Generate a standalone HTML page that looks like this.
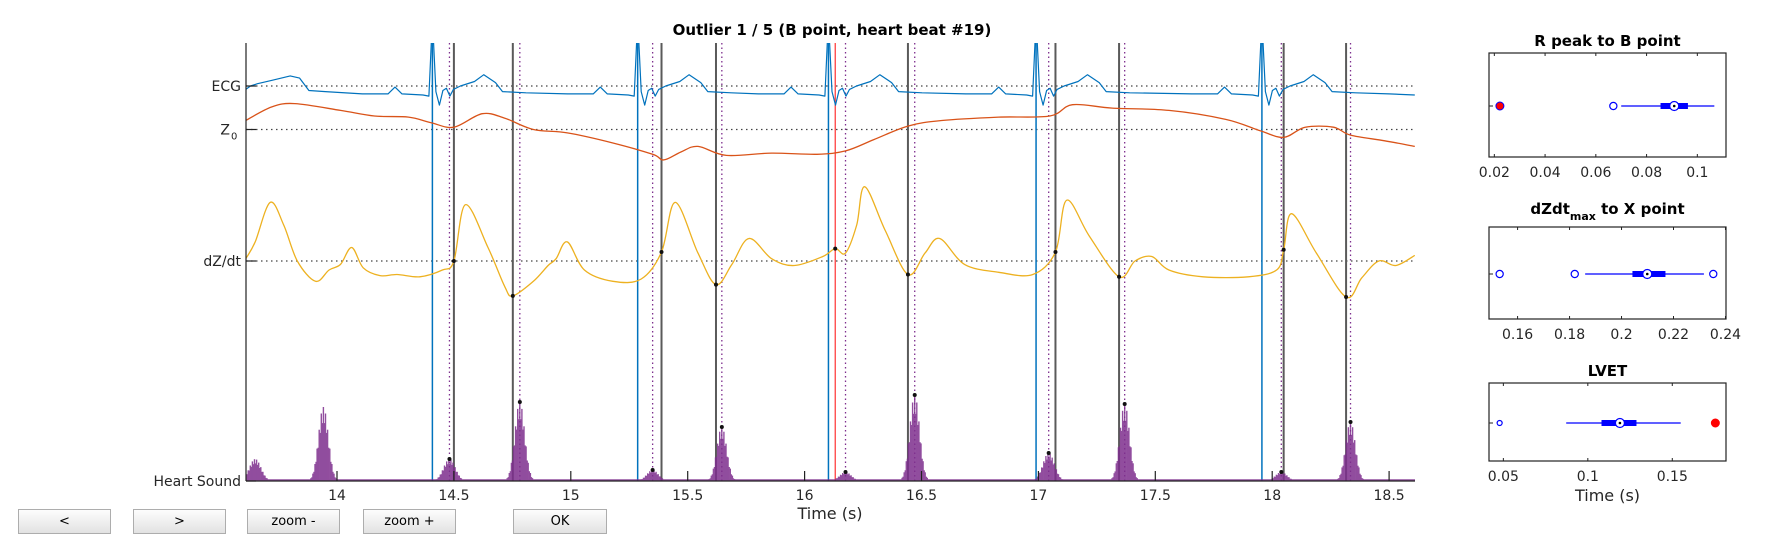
<!DOCTYPE html>
<html><head><meta charset="utf-8">
<style>
body{margin:0;background:#fff;width:1771px;height:541px;overflow:hidden;font-family:"Liberation Sans","DejaVu Sans",sans-serif;}
.btn{position:absolute;top:509px;height:25px;border:1px solid #adadad;background:linear-gradient(#fdfdfd,#e2e2e2);font:13px "DejaVu Sans","Liberation Sans",sans-serif;color:#000;display:flex;align-items:center;justify-content:center;box-sizing:border-box;}
</style></head><body>
<svg id="svg" width="1771" height="541" xmlns="http://www.w3.org/2000/svg" style="position:absolute;left:0;top:0" font-family="DejaVu Sans, Liberation Sans, sans-serif">
<defs><clipPath id="mainclip"><rect x="246" y="43" width="1169" height="439"/></clipPath></defs>
<text x="832" y="35" text-anchor="middle" font-size="15" font-weight="bold" fill="#000">Outlier 1 / 5 (B point, heart beat #19)</text>
<g id="main"></g>
<g id="side"></g>
</svg>
<div class="btn" style="left:18px;width:93px">&lt;</div>
<div class="btn" style="left:133px;width:93px">&gt;</div>
<div class="btn" style="left:247px;width:93px">zoom -</div>
<div class="btn" style="left:363px;width:93px">zoom +</div>
<div class="btn" style="left:513px;width:94px">OK</div>
<script>
// ---- main chart data ----
const xTicks=[14,14.5,15,15.5,16,16.5,17,17.5,18,18.5];
const rPeaks=[14.408,15.286,16.102,16.990,17.956];
const bPoints=[14.500,15.388,17.073,18.049];
const xPoints=[14.752,15.621,16.442,17.345,18.316];
const outlierB=[16.131];
const soundMarks=[14.481,14.782,15.350,15.646,16.175,16.471,17.044,17.369,18.039,18.335];
const ecgLeadT=[13.61,13.63,13.66,13.72,13.80,13.84,13.88,13.95];
const ecgLeadV=[-3,0,2,5,9,7,-4,-5];
const ecgTplDt=[-0.30,-0.19,-0.16,-0.13,-0.04,-0.015,0,0.015,0.03,0.045,0.06,0.075,0.09,0.12,0.18,0.22,0.27,0.30,0.40];
const ecgTplV=[-7,-7,-1,-7,-8,-9,60,-5,-17,-4,-2,-9,-3,0,4,10,3,-5,-6];
const ecgTailT=[18.50,18.61];
const ecgTailV=[-7,-8];
const zT=[13.61,13.72,13.82,14.015,14.16,14.306,14.403,14.5,14.621,14.718,14.84,14.985,15.18,15.35,15.398,15.471,15.544,15.665,15.859,16.053,16.175,16.296,16.442,16.587,16.83,17.049,17.146,17.316,17.558,17.801,17.947,18.049,18.141,18.262,18.335,18.481,18.61];
const zV=[8,20,23,17,12,11,6,2,14,10,0,-3,-12,-22,-27,-20,-15,-23,-21,-22,-19,-9,3,8,11,12,22,19,17,9,-1,-7,2,2,-5,-10,-15];
const dT=[13.61,13.65,13.714,13.772,13.83,13.908,13.966,14.015,14.063,14.112,14.184,14.257,14.354,14.451,14.5,14.549,14.646,14.718,14.752,14.84,14.903,14.937,14.985,15.058,15.18,15.301,15.388,15.447,15.544,15.621,15.689,15.762,15.859,15.956,16.078,16.131,16.175,16.223,16.257,16.345,16.442,16.515,16.578,16.684,16.83,16.976,17.073,17.121,17.218,17.345,17.413,17.485,17.558,17.704,17.898,18.019,18.049,18.083,18.189,18.316,18.383,18.456,18.529,18.61];
const dV=[2,17,52,32,0,-18,-8,-3,12,-6,-13,-12,-14,-8,0,50,12,-23,-31,-18,-4,2,17,-8,-18,-16,8,52,7,-21,-3,20,2,-4,4,11,7,32,66,27,-12,7,20,-3,-10,-12,8,54,22,-14,0,4,-8,-14,-14,-8,10,42,7,-32,-15,0,-4,5];
const hsT=[13.650,13.942,14.481,14.782,15.350,15.646,16.175,16.471,17.044,17.369,18.039,18.335];
const hsAmp=[22,74,22,79,11,54,9,86,28,77,9,59];

const NS='http://www.w3.org/2000/svg';
const main=document.getElementById('main');
function mk(tag,attrs,parent){const e=document.createElementNS(NS,tag);for(const k in attrs)e.setAttribute(k,attrs[k]);(parent||main).appendChild(e);return e;}
const X0=246,X1=1415,Y0=43,Y1=481;
function xs(t){return 337+(t-14)*233.8;}
const K=1.126;
const ecgY=86,zY=129.5,dY=261,hsY=481;
function interp(T,V,t){if(t<=T[0])return V[0];for(let i=0;i<T.length-1;i++){if(t<=T[i+1]){const f=(t-T[i])/(T[i+1]-T[i]);return V[i]+(V[i+1]-V[i])*f;}}return V[V.length-1];}
function smoothPath(T,V,base){
  const P=T.map((t,i)=>[xs(t),base-V[i]*K]);
  let d='M'+P[0][0].toFixed(1)+','+P[0][1].toFixed(1);
  for(let i=0;i<P.length-1;i++){const p0=P[Math.max(0,i-1)],p1=P[i],p2=P[i+1],p3=P[Math.min(P.length-1,i+2)];
    const c1=[p1[0]+(p2[0]-p0[0])/6,p1[1]+(p2[1]-p0[1])/6],c2=[p2[0]-(p3[0]-p1[0])/6,p2[1]-(p3[1]-p1[1])/6];
    d+=' C'+c1[0].toFixed(1)+','+c1[1].toFixed(1)+' '+c2[0].toFixed(1)+','+c2[1].toFixed(1)+' '+p2[0].toFixed(1)+','+p2[1].toFixed(1);}
  return d;}

[[ecgY,'ecg-reference-line'],[zY,'z0-reference-line'],[dY,'dzdt-reference-line']].forEach(r=>{
  const l=mk('line',{x1:X0,x2:X1,y1:r[0],y2:r[0],stroke:'#444','stroke-width':1.2,'stroke-dasharray':'1.5,3.5'});
  
  
});
const clipG=mk('g',{'clip-path':'url(#mainclip)'});
soundMarks.forEach(t=>{const l=mk('line',{x1:xs(t),x2:xs(t),y1:Y0,y2:Y1,stroke:'#7E2F8E','stroke-width':1.3,'stroke-dasharray':'1.5,3'},clipG);
  
  });
rPeaks.forEach(t=>{const l=mk('line',{x1:xs(t),x2:xs(t),y1:Y0,y2:Y1,stroke:'#0072BD','stroke-width':1.5},clipG);
  
  });
bPoints.concat(xPoints).forEach(t=>{const l=mk('line',{x1:xs(t),x2:xs(t),y1:Y0,y2:Y1,stroke:'#5a5a5a','stroke-width':2},clipG);
  
  });
outlierB.forEach(t=>{const l=mk('line',{x1:xs(t),x2:xs(t),y1:Y0,y2:Y1,stroke:'#ff3030','stroke-width':1.2},clipG);
  
  });

let eT=ecgLeadT.slice(),eV=ecgLeadV.slice();
rPeaks.forEach(r=>{ecgTplDt.forEach((dt,i)=>{eT.push(r+dt);eV.push(ecgTplV[i]);});});
eT=eT.concat(ecgTailT);eV=eV.concat(ecgTailV);
let ed='';eT.forEach((t,i)=>{ed+=(i?'L':'M')+xs(t).toFixed(1)+','+(ecgY-eV[i]*K).toFixed(1);});
const ecg=mk('path',{d:ed,fill:'none',stroke:'#0072BD','stroke-width':1.2,'stroke-linejoin':'round'},clipG);


const zp=mk('path',{d:smoothPath(zT,zV,zY),fill:'none',stroke:'#D95319','stroke-width':1.3},clipG);


const dp=mk('path',{d:smoothPath(dT,dV,dY),fill:'none',stroke:'#EDB120','stroke-width':1.3},clipG);


const hsG=mk('g',{stroke:'#7E2F8E','stroke-width':1.4,opacity:0.85},clipG);


mk('line',{x1:X0,x2:X1,y1:hsY-1,y2:hsY-1,'stroke-width':1.5},hsG);
hsT.forEach((c,k)=>{const sig=hsAmp[k]>40?0.021:0.025;let j=0;
  for(let t=c-3*sig;t<=c+3*sig;t+=0.0045,j++){const h=hsAmp[k]*Math.exp(-(t-c)*(t-c)/(2*sig*sig))*(j%2?0.8:1);
    mk('line',{x1:xs(t).toFixed(1),x2:xs(t).toFixed(1),y1:hsY,y2:(hsY-h).toFixed(1)},hsG);}});
function dot(t,y,name){const c=mk('circle',{cx:xs(t),cy:y,r:2,fill:'#111'},clipG);}
bPoints.forEach(t=>dot(t,dY-interp(dT,dV,t)*K,'b-point-dot'));
xPoints.forEach(t=>dot(t,dY-interp(dT,dV,t)*K,'x-point-dot'));
outlierB.forEach(t=>dot(t,dY-interp(dT,dV,t)*K,'outlier-b-point-dot'));
soundMarks.forEach(t=>{let a=0;hsT.forEach((c,k)=>{if(Math.abs(c-t)<0.01)a=hsAmp[k];});dot(t,hsY-a,'heart-sound-peak-dot');});
const ax=mk('line',{x1:X0,x2:X0,y1:Y0,y2:Y1,stroke:'#222','stroke-width':1.2});
const bx=mk('line',{x1:X0,x2:X1,y1:Y1,y2:Y1,stroke:'#222','stroke-width':1.2});
xTicks.forEach(v=>{mk('line',{x1:xs(v),x2:xs(v),y1:Y1,y2:Y1-10,stroke:'#222','stroke-width':1.2});
  const tx=mk('text',{x:xs(v),y:500,'text-anchor':'middle','font-size':14,fill:'#262626'});tx.textContent=String(v);
  });
const xt=mk('text',{x:830,y:519,'text-anchor':'middle','font-size':16,fill:'#262626'});xt.textContent='Time (s)';

[[ecgY,'ECG','ecg-label'],[zY,'Z','z0-label'],[dY,'dZ/dt','dzdt-label'],[hsY,'Heart Sound','heart-sound-label']].forEach(r=>{
  mk('line',{x1:X0,x2:X0+10,y1:r[0],y2:r[0],stroke:'#222','stroke-width':1.2});
  const tx=mk('text',{x:r[1]==='Z'?230:241,y:r[0]+5,'text-anchor':'end','font-size':14,fill:'#262626'});tx.textContent=r[1];
  
  if(r[1]==='Z'){const s=mk('text',{x:231,y:r[0]+10,'font-size':10,fill:'#262626'});s.textContent='0';}});

// ---- side box plots ----
const p1Ticks=[0.02,0.04,0.06,0.08,0.1];
const p1Outliers=[0.0669];const p1Red=[0.0222];const p1Whisk=[0.070,0.1067];const p1Box=[0.0855,0.0963];const p1Med=[0.0909];
const p2Ticks=[0.16,0.18,0.2,0.22,0.24];
const p2Outliers=[0.1531,0.182,0.2353];const p2Red=[];const p2Whisk=[0.186,0.2317];const p2Box=[0.2042,0.2169];const p2Med=[0.2099];
const p3Ticks=[0.05,0.1,0.15];
const p3Outliers=[0.0478];const p3Red=[0.1755];const p3Whisk=[0.0872,0.1550];const p3Box=[0.1081,0.1288];const p3Med=[0.119];
const side=document.getElementById('side');
const panels=[
 {name:'r-peak-to-b-point',title:'R peak to B point',y0:53,y1:157,lo:0.0179,hi:0.1113,ticks:p1Ticks,out:p1Outliers,red:p1Red,wh:p1Whisk,box:p1Box,med:p1Med,or:3.6},
 {name:'dzdt-max-to-x-point',title:'dZdt',sub:'max',rest:' to X point',y0:227,y1:319,lo:0.149,hi:0.2402,ticks:p2Ticks,out:p2Outliers,red:p2Red,wh:p2Whisk,box:p2Box,med:p2Med,or:3.6},
 {name:'lvet',title:'LVET',y0:383,y1:461,lo:0.0415,hi:0.1818,ticks:p3Ticks,out:p3Outliers,red:p3Red,wh:p3Whisk,box:p3Box,med:p3Med,or:2.5,xlabel:true}];
const PX0=1489,PX1=1726;
panels.forEach(p=>{
  const g=mk('g',{},side);
  const sx=v=>PX0+(v-p.lo)/(p.hi-p.lo)*(PX1-PX0);
  const cy=(p.y0+p.y1)/2+1;
  const tt=mk('text',{x:(PX0+PX1)/2,y:p.y0-7,'text-anchor':'middle','font-size':15,'font-weight':'bold',fill:'#000'},g);
  
  if(p.sub){tt.setAttribute('y',p.y0-13);const a=document.createElementNS(NS,'tspan');a.textContent=p.title;tt.appendChild(a);
    const b=document.createElementNS(NS,'tspan');b.setAttribute('font-size','11');b.setAttribute('dy','6');b.textContent=p.sub;tt.appendChild(b);
    const c=document.createElementNS(NS,'tspan');c.setAttribute('dy','-6');c.textContent=p.rest;tt.appendChild(c);} else tt.textContent=p.title;
  mk('rect',{x:PX0,y:p.y0,width:PX1-PX0,height:p.y1-p.y0,fill:'none',stroke:'#222','stroke-width':1.2},g);
  mk('line',{x1:PX0,x2:PX0+4,y1:cy,y2:cy,stroke:'#222'},g);
  p.ticks.forEach(v=>{mk('line',{x1:sx(v),x2:sx(v),y1:p.y1,y2:p.y1-3,stroke:'#222'},g);mk('line',{x1:sx(v),x2:sx(v),y1:p.y0,y2:p.y0+3,stroke:'#222'},g);
    const tx=mk('text',{x:sx(v),y:p.y1+20,'text-anchor':'middle','font-size':14,fill:'#262626'},g);tx.textContent=String(v);
    });
  const w=mk('line',{x1:sx(p.wh[0]),x2:sx(p.wh[1]),y1:cy,y2:cy,stroke:'#0000ff','stroke-width':1.3},g);
  
  const b=mk('rect',{x:sx(p.box[0]),y:cy-3,width:sx(p.box[1])-sx(p.box[0]),height:6,fill:'#0000ff'},g);
  
  p.med.forEach(v=>{const m=mk('circle',{cx:sx(v),cy:cy,r:4.5,fill:'#fff',stroke:'#0000ff','stroke-width':1.2},g);
    
    mk('circle',{cx:sx(v),cy:cy,r:1.3,fill:'#000'},g);});
  p.out.forEach(v=>{const o=mk('circle',{cx:sx(v),cy:cy,r:p.or,fill:'none',stroke:'#0000ff','stroke-width':1.2},g);
    });
  p.red.forEach(v=>{const o=mk('circle',{cx:sx(v),cy:cy,r:4,fill:'#ff0000',stroke:p.name==='lvet'?'#ff0000':'#0000ff','stroke-width':1},g);
    });
  if(p.xlabel){const t=mk('text',{x:(PX0+PX1)/2,y:p.y1+40,'text-anchor':'middle','font-size':16,fill:'#262626'},g);t.textContent='Time (s)';
    }
});
</script>
</body></html>
